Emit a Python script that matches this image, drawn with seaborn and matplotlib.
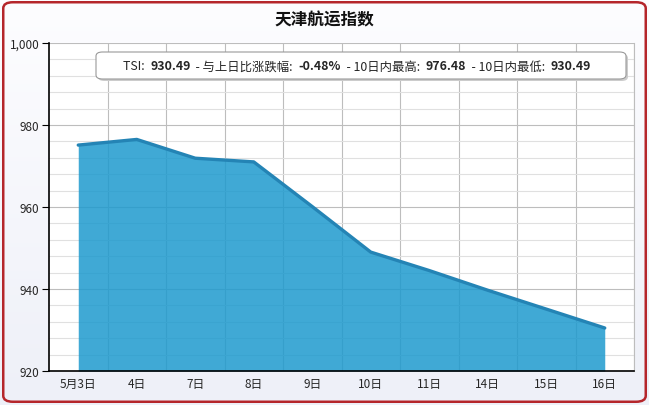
import numpy as np
import pandas as pd
import matplotlib
matplotlib.use("Agg")
import matplotlib.pyplot as plt
import seaborn as sns
from matplotlib.patches import FancyBboxPatch
from matplotlib.ticker import MultipleLocator, FuncFormatter

# Data
DAYS = ["5月3日", "4日", "7日", "8日", "9日", "10日", "11日", "14日", "15日", "16日"]
TSI = [975.1, 976.48, 971.9, 971.0, 960.1, 949.0, 944.5, 939.7, 935.1, 930.49]
TITLE = "天津航运指数"
# info box pieces: (text, bold)
INFO = [("TSI:  ", False), ("930.49", True), ("  - 与上日比涨跌幅:  ", False), ("-0.48%", True),
        ("  - 10日内最高:  ", False), ("976.48", True), ("  - 10日内最低:  ", False), ("930.49", True)]

sns.set_style("white")
plt.rcParams['font.family'] = ['Noto Sans CJK SC', 'DejaVu Sans']

df = pd.DataFrame({"pos": np.arange(len(DAYS)), "tsi": TSI})

fig = plt.figure(figsize=(6.49, 4.06), dpi=100)

# Background gradient + red rounded border
bg = fig.add_axes([0, 0, 1, 1], zorder=-10)
grad = np.linspace(0, 1, 100).reshape(-1, 1)
bg.imshow(grad, aspect='auto', extent=[0, 1, 0, 1], origin='lower',
          cmap=matplotlib.colors.LinearSegmentedColormap.from_list("bg", ["#eef0f8", "#fdfdff"]))
bg.add_patch(FancyBboxPatch((0.005, 0.008), 0.99, 0.984, boxstyle="round,pad=0,rounding_size=0.015",
                            fill=False, edgecolor="#b5262b", linewidth=1.8, transform=bg.transAxes))
bg.set_xlim(0, 1)
bg.set_ylim(0, 1)
bg.axis('off')

ax = fig.add_axes([49 / 649, 1 - 372 / 406, (634 - 49) / 649, (372 - 44) / 406])
ax.set_facecolor("white")

ax.fill_between(df["pos"], df["tsi"], 920, color="#1e9ace", alpha=0.85, zorder=2, linewidth=0)
sns.lineplot(data=df, x="pos", y="tsi", ax=ax, color="#2484b5", linewidth=2.4, zorder=3)

ax.set_xlim(-0.5, len(DAYS) - 0.5)
ax.set_ylim(920, 1000)
ax.yaxis.set_major_locator(MultipleLocator(20))
ax.yaxis.set_minor_locator(MultipleLocator(4))
ax.yaxis.set_major_formatter(FuncFormatter(lambda v, p: f"{int(v):,}"))
ax.set_xticks(df["pos"])
ax.set_xticklabels(DAYS)
ax.set_xticks(np.arange(len(DAYS)) + 0.5, minor=True)

ax.set_axisbelow(True)
ax.grid(which='major', axis='y', color="#bdbdbd", linewidth=0.8)
ax.grid(which='minor', axis='y', color="#e0e0e0", linewidth=0.8)
ax.grid(which='minor', axis='x', color="#bdbdbd", linewidth=0.8)

ax.tick_params(axis='x', which='major', length=0, labelsize=8.5, pad=4)
ax.tick_params(axis='x', which='minor', length=5, color="black", direction='out')
ax.tick_params(axis='y', which='major', length=5, labelsize=8.5, color="black", direction='out', left=True, pad=2)
ax.tick_params(axis='y', which='minor', length=0)
ax.set_xlabel("")
ax.set_ylabel("")
for side in ["left", "bottom"]:
    ax.spines[side].set_color("black")
    ax.spines[side].set_linewidth(1.2)
ax.spines["top"].set_visible(False)
ax.spines["right"].set_color("#bdbdbd")

fig.text(0.5, 1 - 20 / 406, TITLE, ha='center', va='center', fontsize=12, fontweight='bold', color="#111111")

# Info box
box = FancyBboxPatch((96 / 649, 1 - 80 / 406), (626 - 96) / 649, 27 / 406,
                     boxstyle="round,pad=0,rounding_size=0.01", transform=fig.transFigure,
                     facecolor="white", edgecolor="#999999", linewidth=0.8, zorder=5)
shadow = FancyBboxPatch((98 / 649, 1 - 82 / 406), (626 - 96) / 649, 27 / 406,
                        boxstyle="round,pad=0,rounding_size=0.01", transform=fig.transFigure,
                        facecolor="#cccccc", edgecolor="none", zorder=4)
fig.patches.extend([shadow, box])

# place info text pieces one after another, then center the whole line
renderer = fig.canvas.get_renderer()
pieces = []
x = 0.0
for txt, bold in INFO:
    t = fig.text(x, 1 - 67 / 406, txt, ha='left', va='center', fontsize=8.9,
                 fontweight='bold' if bold else 'normal', zorder=6)
    w = t.get_window_extent(renderer).width / fig.bbox.width
    pieces.append((t, x))
    x += w
start = 357 / 649 - x / 2
for t, off in pieces:
    t.set_x(start + off)

fig.savefig("out.png", dpi=100)
